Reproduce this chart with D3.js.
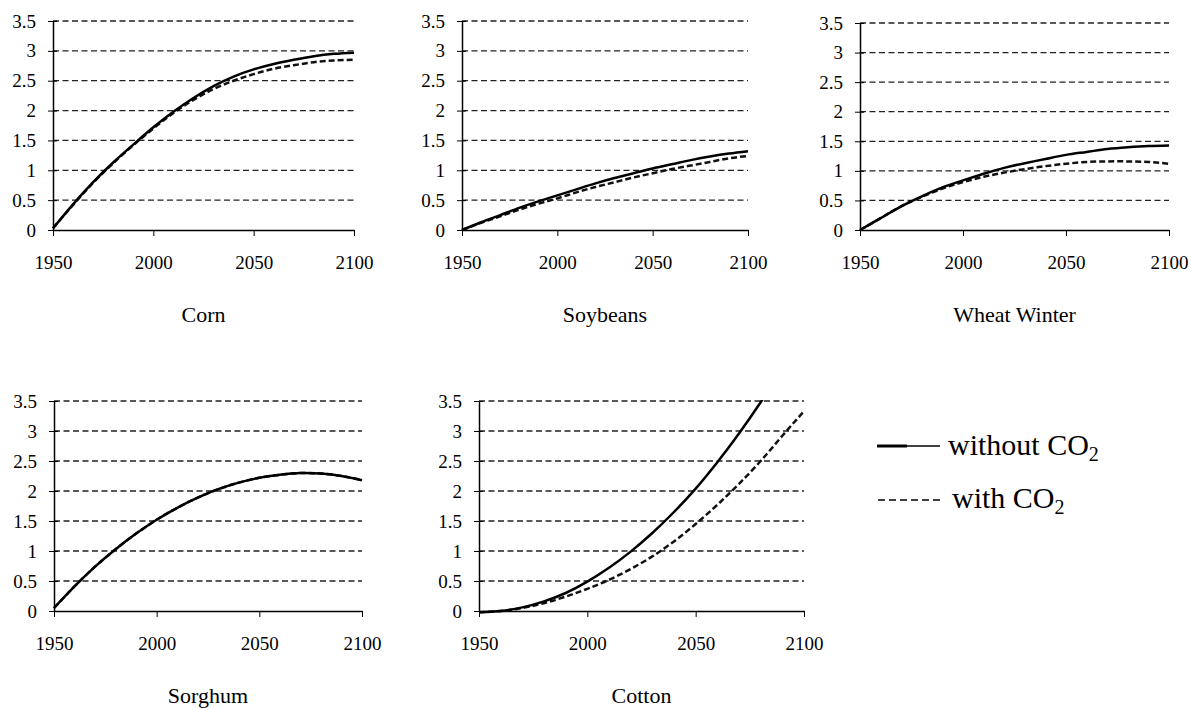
<!DOCTYPE html>
<html>
<head>
<meta charset="utf-8">
<script src="https://cdn.jsdelivr.net/npm/d3@7"></script>
<style>
  body { margin: 0; background: #fff; }
  svg text { font-family: "Liberation Serif", "Times New Roman", serif; fill: #000; }
</style>
</head>
<body>
<div id="viz-container"></div>
<script>
// data, one value every 10 years
let years = [1950,1960,1970,1980,1990,2000,2010,2020,2030,2040,2050,2060,2070,2080,2090,2100];

let cornWithout = [0.03,0.43,0.80,1.13,1.43,1.72,1.98,2.21,2.41,2.57,2.69,2.78,2.85,2.91,2.95,2.97];
let cornWith    = [0.03,0.42,0.79,1.12,1.42,1.70,1.96,2.18,2.36,2.50,2.61,2.70,2.76,2.81,2.84,2.85];

let soyWithout = [0,0.13,0.25,0.37,0.48,0.58,0.68,0.78,0.87,0.95,1.03,1.10,1.17,1.23,1.28,1.32];
let soyWith    = [0,0.12,0.23,0.34,0.44,0.53,0.63,0.72,0.80,0.88,0.95,1.02,1.08,1.14,1.20,1.24];

let wheatWithout = [0,0.20,0.40,0.57,0.72,0.84,0.95,1.05,1.13,1.20,1.27,1.32,1.37,1.40,1.42,1.43];
let wheatWith    = [0,0.20,0.40,0.56,0.70,0.81,0.90,0.97,1.03,1.08,1.12,1.15,1.16,1.16,1.15,1.12];

let sorghumWithout = [0.05,0.41,0.74,1.03,1.29,1.52,1.72,1.89,2.03,2.14,2.22,2.27,2.30,2.29,2.25,2.18];
let sorghumWith    = [0.05,0.41,0.74,1.03,1.29,1.52,1.72,1.89,2.03,2.14,2.22,2.27,2.30,2.29,2.25,2.18];

let cottonWithout = [-0.02,0.0,0.06,0.16,0.30,0.49,0.72,0.99,1.30,1.65,2.04,2.48,2.96,3.48,4.04,4.64];
let cottonWith    = [-0.02,0.0,0.05,0.13,0.24,0.37,0.52,0.70,0.91,1.16,1.45,1.77,2.12,2.50,2.92,3.33];

let xTicks = [1950,2000,2050,2100];
let yTicks = [0,0.5,1,1.5,2,2.5,3,3.5];
let legendLabels = ['without CO', 'with CO'];

let width = 1191;
let height = 708;

let viz = d3.select('#viz-container')
  .append('svg')
  .attr('width', width)
  .attr('height', height);

// panel frames (left axis x, right end x, top y, bottom y)
let panels = [
  {name:'Corn',         x0:53,  x1:354,  y0:21,  y1:230, without:cornWithout,    with:cornWith},
  {name:'Soybeans',     x0:462, x1:748,  y0:21,  y1:230, without:soyWithout,     with:soyWith},
  {name:'Wheat Winter', x0:860, x1:1169, y0:23,  y1:230, without:wheatWithout,   with:wheatWith},
  {name:'Sorghum',      x0:54,  x1:362,  y0:401, y1:611, without:sorghumWithout, with:sorghumWith},
  {name:'Cotton',       x0:479, x1:804,  y0:401, y1:611, without:cottonWithout,  with:cottonWith}
];

let serif = '"Liberation Serif", "Times New Roman", serif';

panels.forEach(function(p, k){
  let x = d3.scaleLinear().domain([1950,2100]).range([p.x0, p.x1]);
  let y = d3.scaleLinear().domain([0,3.5]).range([p.y1, p.y0]);
  let g = viz.append('g').attr('class','panel');

  // dashed grid
  g.selectAll('.grid').data(yTicks.filter(d=>d>0)).enter()
    .append('line')
    .attr('class','grid')
    .attr('x1', p.x0).attr('x2', p.x1)
    .attr('y1', d=>y(d)).attr('y2', d=>y(d))
    .attr('stroke','#222')
    .attr('stroke-width',1.3)
    .attr('stroke-dasharray','6,3.5');

  // y axis
  let yAxis = g.append('g')
    .attr('transform','translate('+p.x0+',0)')
    .call(d3.axisLeft(y).tickValues(yTicks).tickSize(5).tickSizeOuter(0).tickPadding(12).tickFormat(d3.format('')))
    .attr('font-family', serif)
    .attr('font-size', 19);
  yAxis.selectAll('.tick line').attr('x2', 4).attr('x1', -5).attr('stroke','#000');
  yAxis.select('.domain').attr('stroke','#000').attr('stroke-width',1.5);
  yAxis.selectAll('text').attr('fill','#000');

  // x axis
  let xAxis = g.append('g')
    .attr('transform','translate(0,'+p.y1+')')
    .call(d3.axisBottom(x).tickValues(xTicks).tickSize(6).tickSizeOuter(0).tickPadding(20).tickFormat(d3.format('d')))
    .attr('font-family', serif)
    .attr('font-size', 19);
  xAxis.select('.domain').attr('stroke','#000').attr('stroke-width',1.5);
  xAxis.selectAll('.tick line').attr('stroke','#000');
  xAxis.selectAll('text').attr('fill','#000');

  // title
  g.append('text')
    .text(p.name)
    .attr('x', (p.x0+p.x1)/2)
    .attr('y', p.y1 + 92)
    .attr('text-anchor','middle')
    .attr('font-size',22);

  let clipId = 'clip'+k;
  viz.append('clipPath').attr('id',clipId)
    .append('rect')
    .attr('x', p.x0-2).attr('y', p.y0-1)
    .attr('width', p.x1-p.x0+6).attr('height', p.y1-p.y0+6);

  let line = d3.line()
    .x((d,i)=>x(years[i]))
    .y(d=>y(d))
    .curve(d3.curveNatural);

  g.append('path')
    .datum(p.with)
    .attr('d', line)
    .attr('clip-path','url(#'+clipId+')')
    .attr('fill','none')
    .attr('stroke','#111')
    .attr('stroke-width',2.5)
    .attr('stroke-dasharray','6,3');

  g.append('path')
    .datum(p.without)
    .attr('d', line)
    .attr('clip-path','url(#'+clipId+')')
    .attr('fill','none')
    .attr('stroke','#000')
    .attr('stroke-width',2.5);
});

// legend
let legend = viz.append('g').attr('class','legend');
legend.append('line')
  .attr('x1',877).attr('x2',907).attr('y1',446).attr('y2',446)
  .attr('stroke','#000').attr('stroke-width',3);
legend.append('line')
  .attr('x1',907).attr('x2',940).attr('y1',446).attr('y2',446)
  .attr('stroke','#000').attr('stroke-width',1.5);
legend.append('line')
  .attr('x1',878).attr('x2',940).attr('y1',500).attr('y2',500)
  .attr('stroke','#000').attr('stroke-width',1.5)
  .attr('stroke-dasharray','7,4');

legend.selectAll('.legendText').data(legendLabels).enter()
  .append('text')
  .attr('class','legendText')
  .attr('x', (d,i)=> i==0 ? 948 : 952)
  .attr('y', (d,i)=> i==0 ? 455 : 508)
  .attr('font-size',30)
  .each(function(d){
    d3.select(this).append('tspan').text(d);
    d3.select(this).append('tspan').text('2').attr('font-size',20).attr('dy',6);
  });
</script>
</body>
</html>
